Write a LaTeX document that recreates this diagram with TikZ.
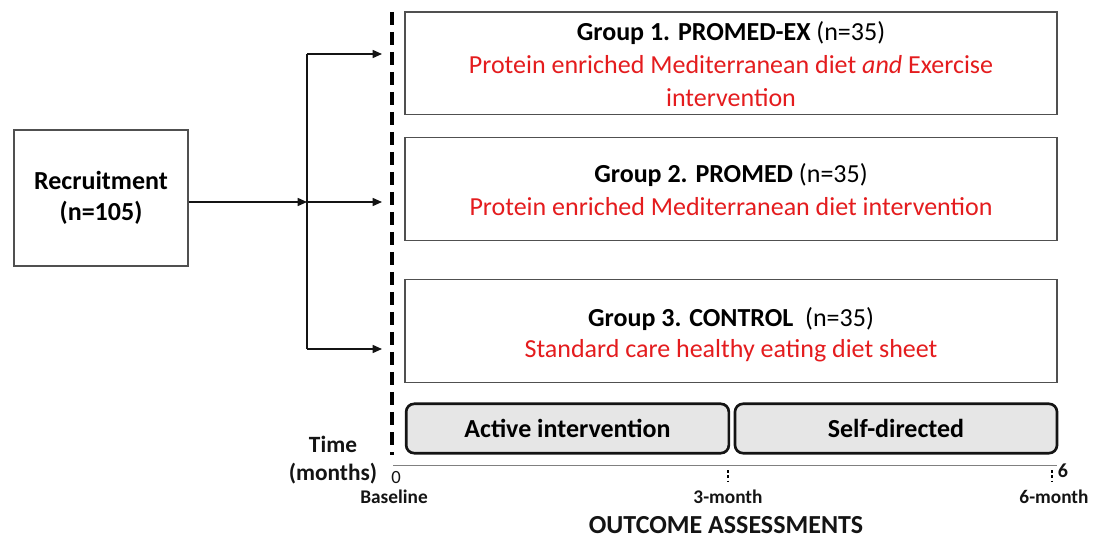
\documentclass[tikz,border=0pt]{standalone}
\usepackage{fontspec}
\setmainfont{Carlito}
\usepackage{tikz}
\usetikzlibrary{arrows.meta, positioning, calc}
\definecolor{myred}{RGB}{228,28,30}
\definecolor{mydark}{RGB}{20,20,20}
\definecolor{myedge}{RGB}{80,80,80}
\definecolor{myfill}{RGB}{230,230,230}
\tikzset{
  groupbox/.style={rectangle, draw=myedge, fill=white,
    minimum width=489pt, minimum height=77pt,
    align=center, line width=1pt, inner sep=0pt},
  recbox/.style={rectangle, draw=myedge, fill=white,
    minimum width=130.5pt, minimum height=102pt,
    align=center, line width=1pt, font=\fontsize{19.5}{23.5}\selectfont\bfseries},
  phasebox/.style={rectangle, draw=mydark, fill=myfill,
    minimum height=37pt, rounded corners=6pt,
    line width=2pt, font=\fontsize{19.5}{22}\selectfont\bfseries},
  arrow/.style={-{Triangle[length=7pt, width=6pt]}, line width=1.1pt, color=mydark},
  line/.style={line width=1.1pt, color=mydark},
  ticklbl/.style={font=\fontsize{14.5}{16}\selectfont\bfseries, text=mydark},
  grptitle/.style={font=\fontsize{19.5}{25}\selectfont}
}

\begin{document}
\begin{tikzpicture}[x=0.75pt, y=-0.75pt]
  \useasboundingbox (0,0) rectangle (1093,538);

  % Recruitment box
  \node[recbox] (recruit) at (101,198) {Recruitment\\(n=105)};

  % Group boxes
  \node[groupbox] (g1) at (731,63.5) {};
  \node[groupbox] (g2) at (731,189) {};
  \node[groupbox] (g3) at (731,331) {};

  \node[grptitle, align=center] (g1txt) at (731,64) {\textbf{Group 1. PROMED-EX} (n=35)\\
    \color{myred}Protein enriched Mediterranean diet \textit{and} Exercise\\
    \color{myred}intervention};
  \node[grptitle, align=center] (g2txt) at (731,189.5) {\textbf{Group 2. PROMED} (n=35)\\
    \color{myred}Protein enriched Mediterranean diet intervention};
  \node[grptitle, align=center, font=\fontsize{19.5}{23}\selectfont] (g3txt) at (731,335) {\textbf{Group 3. CONTROL}\ \ (n=35)\\
    \color{myred}Standard care healthy eating diet sheet};

  % Baseline divider
  \draw[line width=3pt, dash pattern=on 10pt off 5pt] (392,12) -- (392,455);

  % Split arrows
  \coordinate (split) at (307,202);
  \coordinate (top) at (307,54);
  \coordinate (bot) at (307,349);
  \coordinate (a1) at (382,54);
  \coordinate (a2) at (382,202);
  \coordinate (a3) at (382,349);
  \draw[arrow] (recruit.east |- split) -- (split);
  \draw[line] (top) -- (bot);
  \draw[arrow] (top) -- (a1);
  \draw[arrow] (split) -- (a2);
  \draw[arrow] (bot) -- (a3);

  % Phases
  \node[phasebox, minimum width=242pt] (active) at (567.5,428.5) {Active intervention};
  \node[phasebox, minimum width=241.5pt] (selfdir) at (896,428.5) {Self-directed};

  % Time axis
  \coordinate (t0) at (393,465);
  \coordinate (t6) at (1057,465);
  \draw[line width=0.7pt, color=gray] (t0) -- (t6);
  \draw[line width=1pt, dash pattern=on 2pt off 2pt] (728,470) -- (728,481);
  \draw[line width=1pt, dash pattern=on 2pt off 2pt] (1052,470) -- (1052,481);

  \node[font=\fontsize{17.5}{21}\selectfont\bfseries, align=center, text=mydark] (time) at (333,460) {Time\\(months)};
  \node[font=\fontsize{14}{15}\selectfont, text=mydark, inner sep=1pt] (zero) at (396,478) {0};
  \node[font=\fontsize{15}{16}\selectfont\bfseries, text=mydark] (six) at (1063,471) {6};
  \node[ticklbl, inner sep=1pt] (base) at (394,497) {Baseline};
  \node[ticklbl] (m3) at (728,497) {3-month};
  \node[ticklbl] (m6) at (1054,497) {6-month};

  \node[font=\fontsize{19.5}{22}\selectfont\bfseries, text=mydark] (outcome) at (726,525) {OUTCOME ASSESSMENTS};
\end{tikzpicture}
\end{document}
